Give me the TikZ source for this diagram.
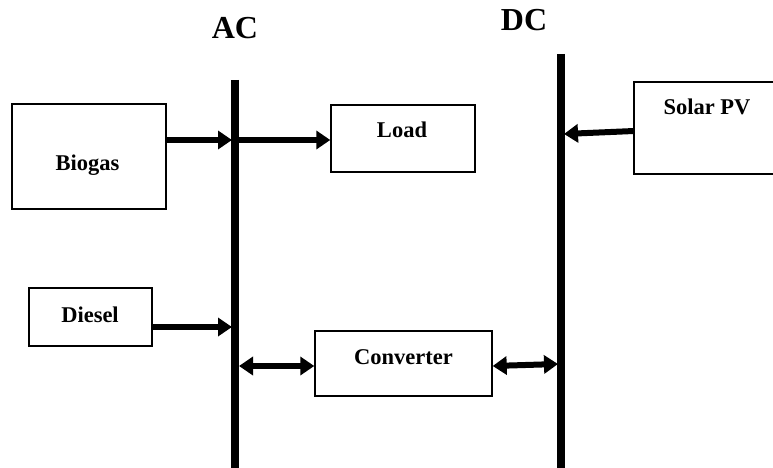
\documentclass[tikz,border=0pt]{standalone}
\usepackage{fontspec}
\setmainfont{Liberation Serif}
\usetikzlibrary{arrows.meta}
\begin{document}
\begin{tikzpicture}[x=1pt,y=-1pt,
  box/.style={draw,line width=1.4pt,inner sep=0pt},
  lbl/.style={inner sep=0pt,anchor=base,font=\fontsize{22.5}{27}\selectfont\bfseries},
  buslbl/.style={inner sep=0pt,font=\fontsize{32}{38}\selectfont\bfseries},
  bus/.style={line width=8pt},
  arr/.style={line width=6pt,-{Triangle[width=18pt,length=14pt]}},
  dbl/.style={line width=6pt,{Triangle[width=18pt,length=14pt]}-{Triangle[width=18pt,length=14pt]}}]
\useasboundingbox (0,0) rectangle (773,468);
% buses
\coordinate (acTop) at (235,80);
\coordinate (acBot) at (235,470);
\coordinate (dcTop) at (561,54);
\coordinate (dcBot) at (561,470);
\draw[bus] (acTop) -- (acBot);
\draw[bus] (dcTop) -- (dcBot);
\node[buslbl] (acL) at (235,28) {AC};
\node[buslbl] (dcL) at (524,20) {DC};
% boxes
\node[box,minimum width=154pt,minimum height=105pt] (biogas) at (89,156.5) {};
\node[box,minimum width=144pt,minimum height=67pt] (load) at (403,138.5) {};
\node[box,minimum width=123pt,minimum height=58pt] (diesel) at (90.5,317) {};
\node[box,minimum width=177pt,minimum height=65pt] (conv) at (403.5,363.5) {};
\draw[line width=1.4pt] (776,82) -- (634,82) -- (634,174) -- (776,174);
\coordinate (solarW) at (634,131);
% labels
\node[lbl] (biogasT) at (87.5,170) {Biogas};
\node[lbl] (loadT) at (402,138) {Load};
\node[lbl] (dieselT) at (90,322) {Diesel};
\node[lbl] (convT) at (403.5,364) {Converter};
\node[lbl] (solarT) at (707,115) {Solar PV};
% connectors
\coordinate (acBio) at (232,140);
\coordinate (acOut) at (238,140);
\coordinate (acDie) at (232,327);
\coordinate (acConv) at (239,366);
\coordinate (dcConv) at (558,364);
\coordinate (dcSol) at (564,134);
\draw[arr] (biogas.east |- acBio) -- (acBio);
\draw[arr] (acOut) -- (load.west |- acOut);
\draw[arr] (diesel.east |- acDie) -- (acDie);
\draw[dbl] (acConv) -- (conv.west |- acConv);
\draw[dbl] (conv.east |- acConv) -- (dcConv);
\draw[arr] (solarW) -- (dcSol);
\end{tikzpicture}
\end{document}
